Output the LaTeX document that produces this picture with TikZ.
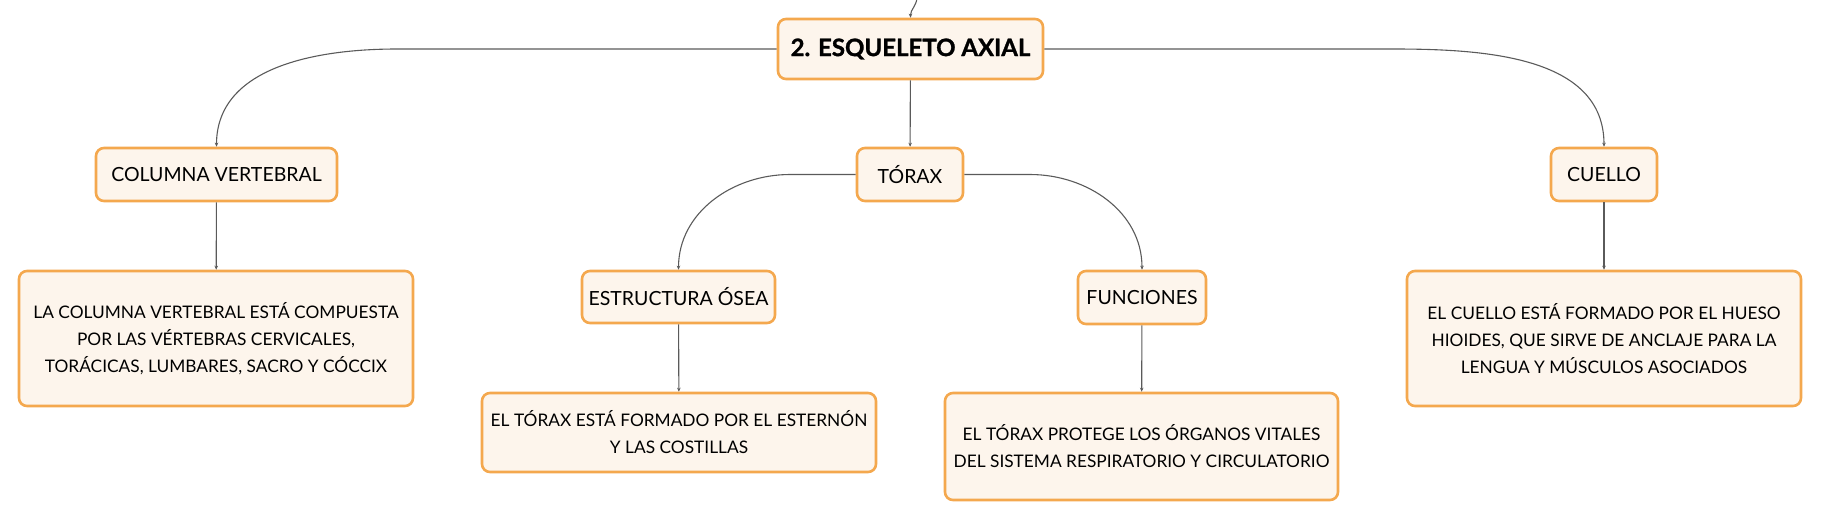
\documentclass[tikz,border=0pt]{standalone}
\usepackage{fontspec}
\setmainfont{Lato}
\usetikzlibrary{arrows.meta}
\definecolor{boxline}{HTML}{F4A84E}
\definecolor{boxfill}{HTML}{FDF5EC}
\definecolor{wire}{HTML}{5A5A5A}
\tikzset{
  box/.style={draw=boxline, fill=boxfill, line width=2.6pt, rounded corners=8pt, align=center, inner sep=0pt},
  titlebox/.style={box, minimum width=265pt, minimum height=60pt, font=\fontsize{24}{28}\selectfont\bfseries\addfontfeatures{FakeBold=1.2}},
  labelbox/.style={box, minimum height=53pt, font=\fontsize{19.5}{24}\selectfont},
  textbox/.style={box, minimum width=394pt, font=\fontsize{17.3}{27}\selectfont},
  link/.style={draw=wire, line width=1.1pt, -{Stealth[length=4pt,width=3.5pt]}}
}
\begin{document}
\begin{tikzpicture}[x=1pt, y=-1pt]
			\useasboundingbox (0, 0) rectangle (1821, 520);
			\draw (910.5, 49) node [titlebox] (axial) {2. ESQUELETO AXIAL};
			\draw (216.5, 174.5) node [labelbox, minimum width=241pt] (columna) {COLUMNA VERTEBRAL};
			\draw (910, 174.5) node [labelbox, minimum width=106pt] (torax) {TÓRAX};
			\draw (1604, 174.5) node [labelbox, minimum width=106pt] (cuello) {CUELLO};
			\draw (678.5, 297) node [labelbox, minimum width=193pt, minimum height=52pt] (osea) {ESTRUCTURA ÓSEA};
			\draw (1142, 297.5) node [labelbox, minimum width=128pt] (funciones) {FUNCIONES};
			\draw (216, 338.5) node [textbox, minimum height=135pt] (columnatxt) {LA COLUMNA VERTEBRAL ESTÁ COMPUESTA\\POR LAS VÉRTEBRAS CERVICALES,\\TORÁCICAS, LUMBARES, SACRO Y CÓCCIX};
			\draw (679, 432.5) node [textbox, minimum height=79pt] (oseatxt) {EL TÓRAX ESTÁ FORMADO POR EL ESTERNÓN\\Y LAS COSTILLAS};
			\draw (1141.5, 446.5) node [textbox, minimum width=393pt, minimum height=107pt] (funcionestxt) {EL TÓRAX PROTEGE LOS ÓRGANOS VITALES\\DEL SISTEMA RESPIRATORIO Y CIRCULATORIO};
			\draw (1604, 338.5) node [textbox, minimum height=135pt] (cuellotxt) {EL CUELLO ESTÁ FORMADO POR EL HUESO\\HIOIDES, QUE SIRVE DE ANCLAJE PARA LA\\LENGUA Y MÚSCULOS ASOCIADOS};
			\coordinate (parent) at (917, -2);
			\draw [link] (parent) to [out=-95, in=90] (axial.north);
			\draw [link] (axial.west) -- (397, 49) to [out=180, in=90] (columna.north);
			\draw [link] (axial.east) -- (1393, 49) to [out=0, in=90] (cuello.north);
			\path (axial) edge [link] (torax);
			\draw [link] (torax.west) -- (790, 174.5) to [out=180, in=90] (osea.north);
			\draw [link] (torax.east) -- (1030, 174.5) to [out=0, in=90] (funciones.north);
			\path (columna) edge [link] (columnatxt);
			\path (osea) edge [link] (oseatxt);
			\path (funciones) edge [link] (funcionestxt);
			\path (cuello) edge [link] (cuellotxt);
		\end{tikzpicture}
\end{document}
